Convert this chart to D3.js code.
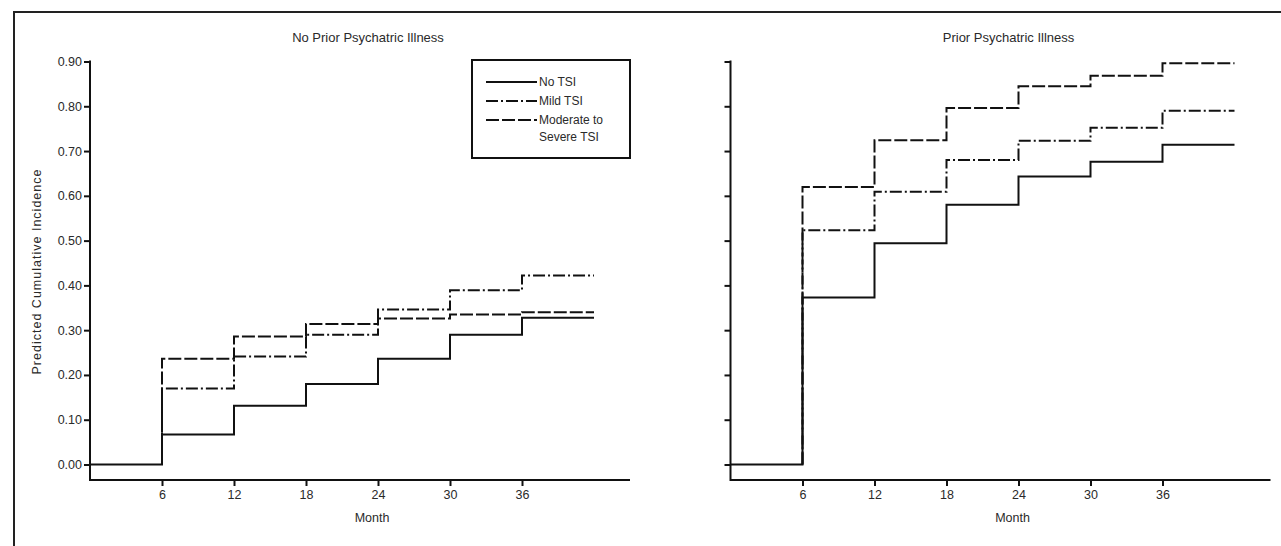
<!DOCTYPE html>
<html>
<head>
<meta charset="utf-8">
<script src="https://cdn.jsdelivr.net/npm/d3@7"></script>
<style>
  body { margin: 0; background: #fff; }
  text { font-family: "Liberation Sans", Arial, sans-serif; fill: #2a2a2a; }
</style>
</head>
<body>
<div id="chart"></div>
<script>
// data
var months = [0, 6, 12, 18, 24, 30, 36, 42];
var xTicks = [6, 12, 18, 24, 30, 36];
var yTicks = [0, 0.1, 0.2, 0.3, 0.4, 0.5, 0.6, 0.7, 0.8, 0.9];
var seriesNames = ["No TSI", "Mild TSI", "Moderate to Severe TSI"];
var panelTitles = ["No Prior Psychatric Illness", "Prior Psychatric Illness"];

// no prior psychiatric illness
var noPriorNoTSI    = [0, 0.067, 0.131, 0.180, 0.236, 0.290, 0.328];
var noPriorMild     = [0, 0.170, 0.241, 0.290, 0.346, 0.389, 0.422];
var noPriorModerate = [0, 0.236, 0.286, 0.314, 0.326, 0.335, 0.340];
// prior psychiatric illness
var priorNoTSI      = [0, 0.373, 0.494, 0.580, 0.643, 0.676, 0.714];
var priorMild       = [0, 0.523, 0.609, 0.680, 0.723, 0.752, 0.790];
var priorModerate   = [0, 0.620, 0.724, 0.796, 0.845, 0.868, 0.896];

var width = 1281, height = 546;
var dashes = [null, "12,3,2,3", "13,3"];

var svg = d3.select("#chart").append("svg").attr("width", width).attr("height", height);

// outer frame (top + left)
svg.append("path").attr("d", "M14,546 L14,12 L1281,12")
  .attr("fill", "none").attr("stroke", "#222").attr("stroke-width", 2);

var y = d3.scaleLinear().domain([0, 0.9]).range([464.5, 61.5]);
var xAxisY = 480;

var panels = [
  {left: 90, title: panelTitles[0], labels: true, series: [noPriorNoTSI, noPriorMild, noPriorModerate]},
  {left: 730.5, title: panelTitles[1], labels: false, series: [priorNoTSI, priorMild, priorModerate]}
];

panels.forEach(function(p, pi){
  var x = d3.scaleLinear().domain([0, 45]).range([p.left, p.left + 540]);
  var g = svg.append("g");

  // y axis
  var yAxis = d3.axisLeft(y).tickValues(yTicks).tickSize(6).tickSizeOuter(0)
      .tickFormat(p.labels ? d3.format(".2f") : "");
  var ya = g.append("g").attr("transform", "translate(" + x(0) + ",0)").call(yAxis);
  ya.select(".domain").remove();
  ya.selectAll(".tick line").attr("stroke", "#111").attr("stroke-width", 2);
  ya.selectAll(".tick text").attr("x", -8).style("font-size", "12.5px").style("font-family", "Liberation Sans, Arial");
  g.append("line").attr("x1", x(0)).attr("x2", x(0)).attr("y1", y(0.9) - 1).attr("y2", xAxisY + 1)
    .attr("stroke", "#111").attr("stroke-width", 2);

  // x axis
  var xAxis = d3.axisBottom(x).tickValues(xTicks).tickSize(6).tickSizeOuter(0);
  var xa = g.append("g").attr("transform", "translate(0," + xAxisY + ")").call(xAxis);
  xa.select(".domain").remove();
  xa.selectAll(".tick line").attr("stroke", "#111").attr("stroke-width", 2);
  xa.selectAll(".tick text").attr("y", 10).style("font-size", "12.5px").style("font-family", "Liberation Sans, Arial");
  g.append("line").attr("x1", x(0)).attr("x2", x(45)).attr("y1", xAxisY).attr("y2", xAxisY)
    .attr("stroke", "#111").attr("stroke-width", 2);

  g.append("text").attr("x", x(0) + 282).attr("y", 522).attr("text-anchor", "middle")
    .style("font-size", "12.5px").text("Month");

  g.append("text").attr("x", x(0) + 278).attr("y", 42).attr("text-anchor", "middle")
    .style("font-size", "13px").text(p.title);

  // step lines
  var line = d3.line().curve(d3.curveStepAfter)
    .x(function(d){ return x(d[0]); })
    .y(function(d){ return y(d[1]); });
  // draw moderate, mild, then none so the solid line stays on top
  [2, 1, 0].forEach(function(si){
    var vals = p.series[si];
    var pts = months.map(function(m, i){ return [m, vals[Math.min(i, vals.length - 1)]]; });
    // the dashed series only start rising at month 6; the flat start belongs to the solid line
    if (si > 0) pts = [[months[1], 0]].concat(pts.slice(1));
    g.append("path").datum(pts).attr("d", line)
      .attr("fill", "none").attr("stroke", "#111").attr("stroke-width", 2)
      .attr("stroke-dasharray", dashes[si]);
  });
});

// y axis title
svg.append("text").attr("transform", "translate(41,272) rotate(-90)")
  .attr("text-anchor", "middle").style("font-size", "12.5px")
  .attr("textLength", 205).attr("lengthAdjust", "spacing")
  .text("Predicted Cumulative Incidence");

// legend
var lg = svg.append("g");
lg.append("rect").attr("x", 472).attr("y", 60).attr("width", 158).attr("height", 98)
  .attr("fill", "#fff").attr("stroke", "#111").attr("stroke-width", 2);
var legRows = [82, 101, 120];
seriesNames.forEach(function(name, i){
  lg.append("line").attr("x1", 486).attr("x2", 537).attr("y1", legRows[i]).attr("y2", legRows[i])
    .attr("stroke", "#111").attr("stroke-width", 2).attr("stroke-dasharray", dashes[i]);
});
lg.append("text").attr("x", 539).attr("y", legRows[0] + 4).style("font-size", "12px").text("No TSI");
lg.append("text").attr("x", 539).attr("y", legRows[1] + 4).style("font-size", "12px").text("Mild TSI");
lg.append("text").attr("x", 539).attr("y", legRows[2] + 4).style("font-size", "12px").text("Moderate to");
lg.append("text").attr("x", 539).attr("y", legRows[2] + 21).style("font-size", "12px").text("Severe TSI");
</script>
</body>
</html>
